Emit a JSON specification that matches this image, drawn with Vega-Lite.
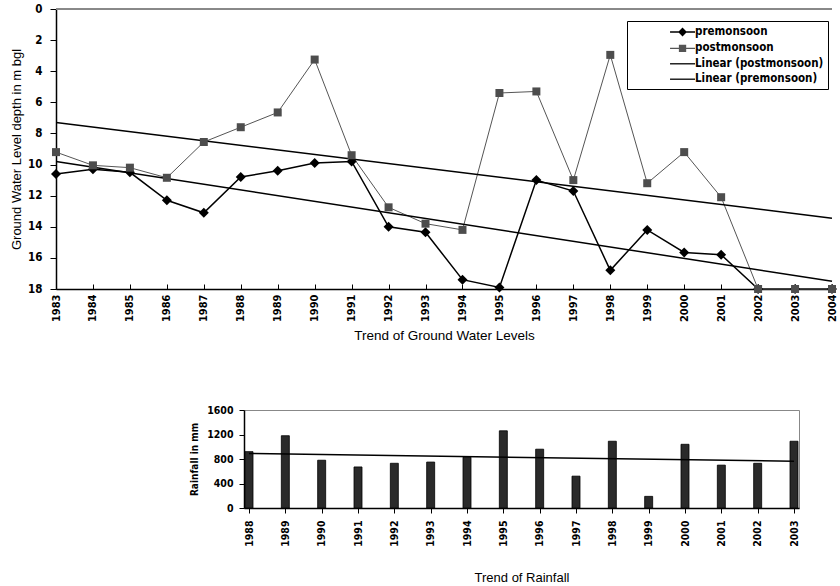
{
  "$schema": "https://vega.github.io/schema/vega-lite/v6.json",
  "padding": {"left": 10, "top": 3, "right": 0, "bottom": 0},
  "background": "white",
  "spacing": 61,
  "config": {
    "font": "Liberation Sans",
    "axis": {"labelColor": "#000", "titleColor": "#000", "domainColor": "#000", "tickColor": "#000", "grid": false}
  },
  "datasets": {
    "groundwater": [
      {"year": 1983, "series": "premonsoon", "depth": 10.6},
      {"year": 1984, "series": "premonsoon", "depth": 10.3},
      {"year": 1985, "series": "premonsoon", "depth": 10.5},
      {"year": 1986, "series": "premonsoon", "depth": 12.3},
      {"year": 1987, "series": "premonsoon", "depth": 13.1},
      {"year": 1988, "series": "premonsoon", "depth": 10.8},
      {"year": 1989, "series": "premonsoon", "depth": 10.4},
      {"year": 1990, "series": "premonsoon", "depth": 9.9},
      {"year": 1991, "series": "premonsoon", "depth": 9.8},
      {"year": 1992, "series": "premonsoon", "depth": 14.0},
      {"year": 1993, "series": "premonsoon", "depth": 14.35},
      {"year": 1994, "series": "premonsoon", "depth": 17.4},
      {"year": 1995, "series": "premonsoon", "depth": 17.9},
      {"year": 1996, "series": "premonsoon", "depth": 11.0},
      {"year": 1997, "series": "premonsoon", "depth": 11.7},
      {"year": 1998, "series": "premonsoon", "depth": 16.8},
      {"year": 1999, "series": "premonsoon", "depth": 14.2},
      {"year": 2000, "series": "premonsoon", "depth": 15.65},
      {"year": 2001, "series": "premonsoon", "depth": 15.8},
      {"year": 2002, "series": "premonsoon", "depth": 18},
      {"year": 2003, "series": "premonsoon", "depth": 18},
      {"year": 2004, "series": "premonsoon", "depth": 18},
      {"year": 1983, "series": "postmonsoon", "depth": 9.2},
      {"year": 1984, "series": "postmonsoon", "depth": 10.05},
      {"year": 1985, "series": "postmonsoon", "depth": 10.2},
      {"year": 1986, "series": "postmonsoon", "depth": 10.85},
      {"year": 1987, "series": "postmonsoon", "depth": 8.55},
      {"year": 1988, "series": "postmonsoon", "depth": 7.6},
      {"year": 1989, "series": "postmonsoon", "depth": 6.65},
      {"year": 1990, "series": "postmonsoon", "depth": 3.25},
      {"year": 1991, "series": "postmonsoon", "depth": 9.4},
      {"year": 1992, "series": "postmonsoon", "depth": 12.75},
      {"year": 1993, "series": "postmonsoon", "depth": 13.8},
      {"year": 1994, "series": "postmonsoon", "depth": 14.2},
      {"year": 1995, "series": "postmonsoon", "depth": 5.4},
      {"year": 1996, "series": "postmonsoon", "depth": 5.3},
      {"year": 1997, "series": "postmonsoon", "depth": 11.0},
      {"year": 1998, "series": "postmonsoon", "depth": 2.95},
      {"year": 1999, "series": "postmonsoon", "depth": 11.2},
      {"year": 2000, "series": "postmonsoon", "depth": 9.2},
      {"year": 2001, "series": "postmonsoon", "depth": 12.1},
      {"year": 2002, "series": "postmonsoon", "depth": 18},
      {"year": 2003, "series": "postmonsoon", "depth": 18},
      {"year": 2004, "series": "postmonsoon", "depth": 18},
      {"year": 1983, "series": "Linear (postmonsoon)", "depth": 7.3},
      {"year": 2004, "series": "Linear (postmonsoon)", "depth": 13.45},
      {"year": 1983, "series": "Linear (premonsoon)", "depth": 9.8},
      {"year": 2004, "series": "Linear (premonsoon)", "depth": 17.5}
    ],
    "rainfall": [
      {"year": 1988, "rain": 920},
      {"year": 1989, "rain": 1180},
      {"year": 1990, "rain": 780},
      {"year": 1991, "rain": 670},
      {"year": 1992, "rain": 730},
      {"year": 1993, "rain": 750},
      {"year": 1994, "rain": 830},
      {"year": 1995, "rain": 1260},
      {"year": 1996, "rain": 960},
      {"year": 1997, "rain": 520},
      {"year": 1998, "rain": 1090},
      {"year": 1999, "rain": 190},
      {"year": 2000, "rain": 1040},
      {"year": 2001, "rain": 700},
      {"year": 2002, "rain": 730},
      {"year": 2003, "rain": 1090}
    ],
    "rainTrend": [
      {"year": 1988, "rain": 890},
      {"year": 2003, "rain": 765}
    ]
  },
  "vconcat": [
    {
      "width": 776,
      "height": 280,
      "view": {"stroke": null},
      "data": {"name": "groundwater"},
      "encoding": {
        "x": {
          "field": "year", "type": "quantitative",
          "scale": {"domain": [1983, 2004], "nice": false, "zero": false},
          "axis": {
            "values": [1983,1984,1985,1986,1987,1988,1989,1990,1991,1992,1993,1994,1995,1996,1997,1998,1999,2000,2001,2002,2003,2004],
            "format": "d", "labelAngle": 270, "labelAlign": "right", "labelBaseline": "middle",
            "labelFont": "DejaVu Sans Condensed, Liberation Sans, sans-serif", "labelFontWeight": "bold", "labelFontSize": 11,
            "tickSize": -5, "labelPadding": 10, "domainWidth": 1.5, "labelFlush": false, "labelOverlap": false,
            "title": "Trend of Ground Water Levels", "titleFontSize": 13.5, "titleFontWeight": "normal", "titlePadding": 7
          }
        },
        "y": {
          "field": "depth", "type": "quantitative",
          "scale": {"domain": [0, 18], "reverse": true, "nice": false, "zero": false},
          "axis": {
            "values": [0, 2, 4, 6, 8, 10, 12, 14, 16, 18],
            "labelFont": "DejaVu Sans Condensed, Liberation Sans, sans-serif", "labelFontWeight": "bold", "labelFontSize": 11.5,
            "tickSize": 6, "labelPadding": 8, "domainWidth": 1.5,
            "title": "Ground Water Level depth in m bgl", "titleFontSize": 13, "titleFontWeight": "normal", "titlePadding": 4
          }
        }
      },
      "layer": [
        {
          "mark": {"type": "rule", "color": "#888", "strokeWidth": 1},
          "encoding": {"x": null, "y": {"datum": 0, "type": "quantitative"}}
        },
        {
          "mark": {"type": "line"},
          "encoding": {
            "color": {
              "field": "series", "type": "nominal",
              "scale": {
                "domain": ["premonsoon", "postmonsoon", "Linear (postmonsoon)", "Linear (premonsoon)"],
                "range": ["#000000", "#555555", "#000000", "#000000"]
              },
              "legend": {
                "title": null, "orient": "none", "legendX": 571, "legendY": 12,
                "strokeColor": "#000", "fillColor": "#fff", "padding": 4,
                "symbolSize": 156, "labelOffset": 50, "rowPadding": 2.4,
                "labelFont": "DejaVu Sans Condensed, Liberation Sans, sans-serif", "labelFontWeight": "bold", "labelFontSize": 11.5,
                "labelColor": "#000", "labelLimit": 300,
                "encoding": {
                  "symbols": {
                    "shape": {
                      "condition": [
                        {"test": "datum.value === 'premonsoon'", "value": "M5.13,0H9.13M7.13,-0.56L7.69,0L7.13,0.56L6.57,0Z"},
                        {"test": "datum.value === 'postmonsoon'", "value": "M5.13,0H9.13M6.65,-0.48H7.61V0.48H6.65Z"}
                      ],
                      "value": "M5.13,0H9.13"
                    },
                    "fill": {"condition": {"test": "datum.value === 'postmonsoon'", "value": "#555555"}, "value": "#000000"},
                    "stroke": {"condition": {"test": "datum.value === 'postmonsoon'", "value": "#555555"}, "value": "#000000"},
                    "strokeWidth": {"value": 1.3}
                  }
                }
              }
            },
            "strokeWidth": {"condition": {"test": "datum.series === 'postmonsoon'", "value": 1}, "value": 1.5}
          }
        },
        {
          "transform": [{"filter": "datum.series === 'premonsoon'"}],
          "mark": {"type": "point", "shape": "diamond", "filled": true, "size": 100, "color": "#000", "opacity": 1}
        },
        {
          "transform": [{"filter": "datum.series === 'postmonsoon'"}],
          "mark": {"type": "point", "shape": "square", "filled": true, "size": 64, "color": "#4d4d4d", "opacity": 1}
        }
      ]
    },
    {
      "spacing": 20,
      "hconcat": [
        {
          "width": 113,
          "height": 1,
          "view": {"stroke": null},
          "data": {"values": []},
          "mark": {"type": "point", "opacity": 0},
          "encoding": {}
        },
        {
          "width": 555,
          "height": 98,
          "view": {"stroke": "#888", "strokeWidth": 1},
          "encoding": {
            "x": {
              "field": "year", "type": "quantitative",
              "scale": {"domain": [1988, 2003], "nice": false, "zero": false},
              "axis": {
                "values": [1988,1989,1990,1991,1992,1993,1994,1995,1996,1997,1998,1999,2000,2001,2002,2003],
                "format": "d", "labelAngle": 270, "labelAlign": "right", "labelBaseline": "middle",
                "labelFont": "DejaVu Sans Condensed, Liberation Sans, sans-serif", "labelFontWeight": "bold", "labelFontSize": 10.5,
                "tickSize": 5, "labelPadding": 7, "domainWidth": 1.5, "labelFlush": false, "labelOverlap": false,
                "title": "Trend of Rainfall", "titleFontSize": 13, "titleFontWeight": "normal", "titlePadding": 25
              }
            },
            "y": {
              "field": "rain", "type": "quantitative",
              "scale": {"domain": [0, 1600], "nice": false},
              "axis": {
                "values": [0, 400, 800, 1200, 1600], "format": "d",
                "labelFont": "DejaVu Sans Condensed, Liberation Sans, sans-serif", "labelFontWeight": "bold", "labelFontSize": 10.5,
                "tickSize": 5, "labelPadding": 6, "domainWidth": 1.5,
                "title": "Rainfall in mm", "titleFont": "DejaVu Sans Condensed, Liberation Sans, sans-serif", "titleFontSize": 10, "titleFontWeight": "bold", "titlePadding": 7
              }
            }
          },
          "layer": [
            {
              "data": {"name": "rainfall"},
              "mark": {"type": "bar", "orient": "vertical", "size": 8, "color": "#2a2a2a", "stroke": "#000", "strokeWidth": 0.8, "clip": true}
            },
            {
              "data": {"name": "rainTrend"},
              "mark": {"type": "line", "color": "#000", "strokeWidth": 1.5}
            }
          ]
        }
      ]
    }
  ]
}
